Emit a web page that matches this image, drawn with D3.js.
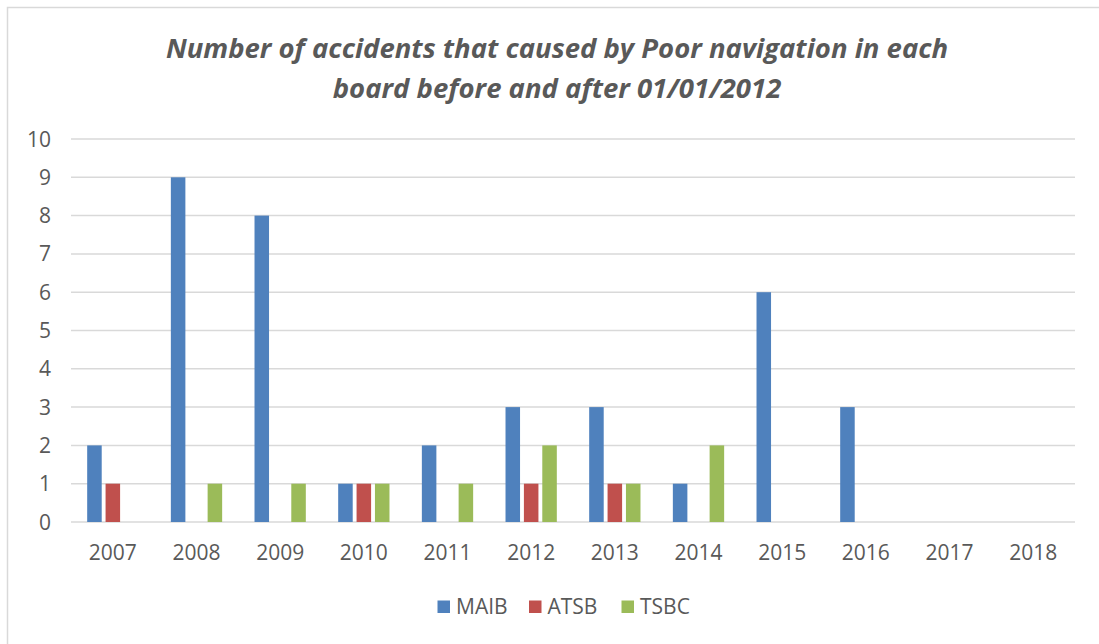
<!DOCTYPE html>
<html lang="en">
<head>
  <meta charset="utf8">
  <script src="https://cdn.jsdelivr.net/npm/d3@7/dist/d3.min.js"></script>
  <title>Poor navigation accidents</title>
  <style>
    body { margin: 0; background: #fff; }
    text { font-family: "Open Sans", "Liberation Sans", sans-serif; fill: #595959; }
  </style>
</head>
<body>
  <div id="chart"></div>
<script>
  // data
  var years = ["2007", "2008", "2009", "2010", "2011", "2012", "2013", "2014", "2015", "2016", "2017", "2018"];
  var seriesNames = ["MAIB", "ATSB", "TSBC"];
  var maib = [2, 9, 8, 1, 2, 3, 3, 1, 6, 3, 0, 0];
  var atsb = [1, 0, 0, 1, 0, 1, 1, 0, 0, 0, 0, 0];
  var tsbc = [0, 1, 1, 1, 1, 2, 1, 2, 0, 0, 0, 0];
  var yTicks = [0, 1, 2, 3, 4, 5, 6, 7, 8, 9, 10];
  var titleLines = ["Number of accidents that caused by Poor navigation in each",
                    "board before and after 01/01/2012"];

  var colors = ["#4f81bd", "#c0504d", "#9bbb59"];
  var values = [maib, atsb, tsbc];

  var width = 1099, height = 644;
  var plot = { left: 71, right: 1075, top: 139, bottom: 522 };

  var svg = d3.select("#chart").append("svg")
    .attr("width", width).attr("height", height);

  // chart frame
  svg.append("rect")
    .attr("x", 7.5).attr("y", 7.5)
    .attr("width", 1100).attr("height", 660)
    .attr("fill", "#fff").attr("stroke", "#d9d9d9").attr("stroke-width", 1.5);

  // title
  svg.append("g").selectAll("text")
    .data(titleLines).enter().append("text")
    .attr("x", 557)
    .attr("y", function (d, i) { return 58 + i * 40; })
    .attr("text-anchor", "middle")
    .style("font-size", "27.5px").style("font-weight", "bold").style("font-style", "italic")
    .text(function (d) { return d; });

  var x0 = d3.scaleBand().domain(years).range([plot.left, plot.right]);
  var groupW = 51.3;
  var x1 = d3.scaleBand().domain(seriesNames)
    .range([(x0.step() - groupW) / 2, (x0.step() + groupW) / 2])
    .paddingInner(0.21);
  var y = d3.scaleLinear().domain([0, 10]).range([plot.bottom, plot.top]);

  // gridlines
  svg.append("g").selectAll("line")
    .data(yTicks).enter().append("line")
    .attr("x1", plot.left).attr("x2", plot.right)
    .attr("y1", function (d) { return y(d); })
    .attr("y2", function (d) { return y(d); })
    .attr("stroke", "#d9d9d9").attr("stroke-width", 1.5);

  // y labels
  svg.append("g").selectAll("text")
    .data(yTicks).enter().append("text")
    .attr("x", 51)
    .attr("y", function (d) { return y(d); })
    .attr("dy", "0.36em")
    .attr("text-anchor", "end")
    .style("font-size", "21px")
    .text(function (d) { return d; });

  // bars
  var groups = svg.append("g").selectAll("g")
    .data(years).enter().append("g")
    .attr("transform", function (d) { return "translate(" + x0(d) + ",0)"; });

  groups.selectAll("rect")
    .data(function (d, i) {
      return seriesNames.map(function (s, k) { return { s: s, v: values[k][i], c: colors[k] }; });
    })
    .enter().append("rect")
    .attr("x", function (d) { return x1(d.s); })
    .attr("width", x1.bandwidth())
    .attr("y", function (d) { return y(d.v); })
    .attr("height", function (d) { return y(0) - y(d.v); })
    .attr("fill", function (d) { return d.c; });

  // x labels
  svg.append("g").selectAll("text")
    .data(years).enter().append("text")
    .attr("x", function (d) { return x0(d) + x0.bandwidth() / 2; })
    .attr("y", 560)
    .attr("text-anchor", "middle")
    .style("font-size", "21px")
    .text(function (d) { return d; });

  // legend
  var legendX = [437.5, 529, 621.5];
  var legend = svg.append("g").selectAll("g")
    .data(seriesNames).enter().append("g")
    .attr("transform", function (d, i) { return "translate(" + legendX[i] + ",600.5)"; });
  legend.append("rect")
    .attr("width", 12.5).attr("height", 12.5)
    .attr("fill", function (d, i) { return colors[i]; });
  legend.append("text")
    .attr("x", 18.5).attr("y", 6).attr("dy", "0.36em")
    .style("font-size", "21px")
    .text(function (d) { return d; });
</script>
</body>
</html>
